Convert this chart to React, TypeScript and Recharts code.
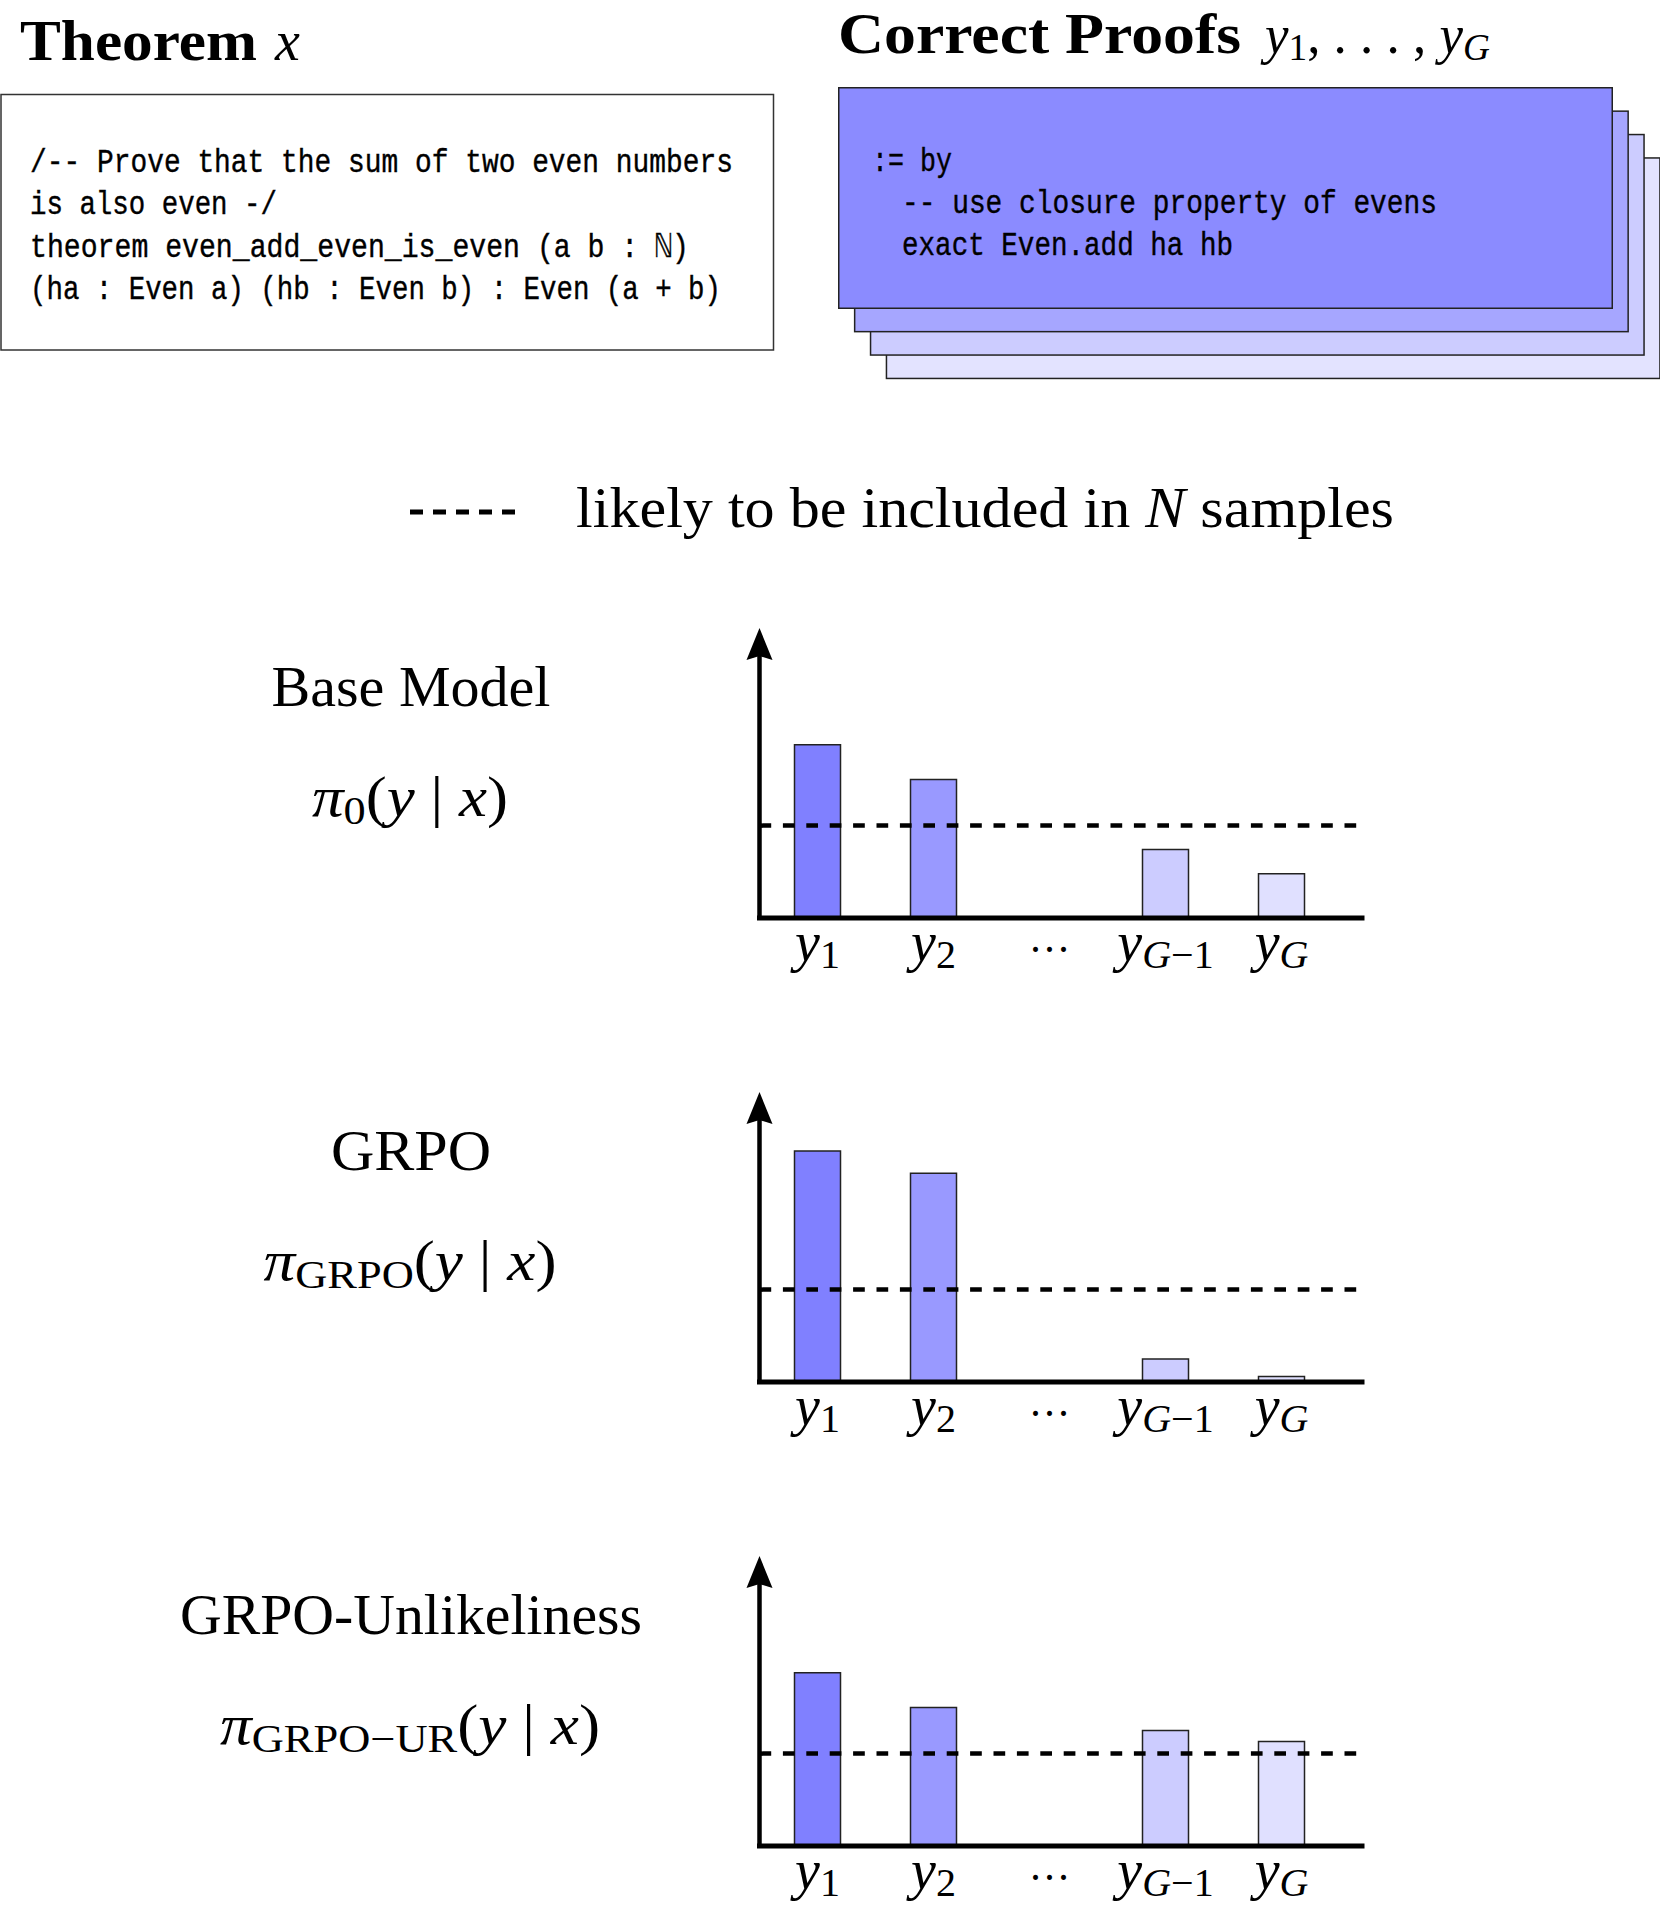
import React from 'react';
import { BarChart, Bar, XAxis, YAxis, ReferenceLine, Cell } from 'recharts';

// ---------- data ----------
const categories = ['y1', 'y2', 'dots', 'yG-1', 'yG'];
const tickMain = ['y', 'y', '···', 'y', 'y'];
const tickSubItalic = ['', '', '', 'G', 'G'];
const tickSubUpright = ['1', '2', '', '−1', ''];
const baseModel = [3.75, 3.0, null, 1.48, 0.96];
const grpo = [5.0, 4.52, null, 0.5, 0.12];
const grpoUnlikeliness = [3.75, 3.0, null, 2.5, 2.26];
const threshold = 2.0;
const yMax = 5.8;
const barColors = ['#8080ff', '#9999ff', '#ffffff', '#ccccff', '#e0e0ff'];
const panelTitles = ['Base Model', 'GRPO', 'GRPO-Unlikeliness'];
const policySubs = ['0', 'GRPO', 'GRPO−UR'];
const theoremLines = [
  '/-- Prove that the sum of two even numbers',
  'is also even -/',
  'theorem even_add_even_is_even (a b : ℕ)',
  '(ha : Even a) (hb : Even b) : Even (a + b)',
];
const proofLines = [':= by', '-- use closure property of evens', 'exact Even.add ha hb'];
const cardColors = ['#e3e3ff', '#ccccff', '#a6a6ff', '#8b8bff'];
const legendText = ['likely to be included in ', 'N', ' samples'];

// ---------- layout ----------
const SERIF = "'Liberation Serif', 'DejaVu Serif', serif";
const MONO = "'Liberation Mono', 'DejaVu Sans Mono', monospace";
const panelTops = [598, 1062, 1526];
const titleWidths = [279, 160, 462];
const policyWidths = [196, 293, 380];
const theoremWidths = [703, 247, 659, 691];
const theoremBaselines = [172, 214, 257, 299];
const proofX = [872, 902, 902];
const proofWidths = [80, 535, 331];
const proofBaselines = [171, 213, 255];

const seriesList = [baseModel, grpo, grpoUnlikeliness];

const makeData = (vals: (number | null)[]) => categories.map((c, i) => ({ cat: c, v: vals[i] }));

const AxisTick = (props: any) => {
  const { x, y, payload } = props;
  const i = categories.indexOf(payload.value);
  if (i < 0) return null;
  if (tickMain[i] === '···') {
    return (
      <text x={x} y={y + 46} textAnchor="middle" fontFamily={SERIF} fontSize={44} fill="#000"
        textLength={42} lengthAdjust="spacingAndGlyphs">
        {tickMain[i]}
      </text>
    );
  }
  return (
    <text x={x} y={y + 42.5} textAnchor="middle" fontFamily={SERIF} fontSize={56} fill="#000">
      <tspan fontStyle="italic">{tickMain[i]}</tspan>
      <tspan fontSize={40} dy={7}>
        {tickSubItalic[i] ? <tspan fontStyle="italic">{tickSubItalic[i]}</tspan> : null}
        {tickSubUpright[i]}
      </tspan>
    </text>
  );
};

const Panel = ({ idx }: { idx: number }) => {
  const data = makeData(seriesList[idx]);
  return (
    <div style={{ position: 'absolute', left: 700, top: panelTops[idx], width: 682, height: 380 }}>
      <BarChart width={682} height={380} data={data}
        margin={{ top: 52, right: 20, bottom: 0, left: 58.5 }} style={{ overflow: 'visible' }}>
        <XAxis dataKey="cat" type="category" interval={0} tickLine={false} tickSize={0} tickMargin={0}
          height={60} padding={{ left: 0, right: 22.5 }}
          axisLine={{ stroke: '#000', strokeWidth: 5, strokeLinecap: 'square' }}
          tick={<AxisTick />} />
        <YAxis type="number" domain={[0, yMax]} width={1} tick={false} tickLine={false}
          allowDataOverflow
          axisLine={{ stroke: '#000', strokeWidth: 4.5, markerStart: 'url(#axisArrow)' }} />
        <Bar dataKey="v" barSize={46} stroke="#222" strokeWidth={1.5} isAnimationActive={false}>
          {data.map((d, i) => (
            <Cell key={d.cat} fill={barColors[i]} />
          ))}
        </Bar>
        <ReferenceLine y={threshold} stroke="#000" strokeWidth={4.5} strokeDasharray="11.7 11.7" />
      </BarChart>
    </div>
  );
};

const Overlay = () => (
  <svg width={1660} height={1912} style={{ position: 'absolute', left: 0, top: 0 }}>
    <defs>
      <marker id="axisArrow" markerUnits="userSpaceOnUse" markerWidth={34} markerHeight={28}
        viewBox="0 -14 34 28" refX={10} refY={0} orient="auto-start-reverse">
        <path d="M32,0 L0,-13 L4,0 L0,13 Z" fill="#000" />
      </marker>
    </defs>

    {/* Theorem header */}
    <text x={20} y={60} fontFamily={SERIF} fontWeight="bold" fontSize={56} fill="#000"
      textLength={237} lengthAdjust="spacingAndGlyphs">Theorem</text>
    <text x={275} y={60} fontFamily={SERIF} fontStyle="italic" fontSize={56} fill="#000">x</text>

    {/* Theorem box */}
    <rect x={1} y={94.5} width={772.5} height={255.5} fill="#fff" stroke="#333" strokeWidth={1.5} />
    {theoremLines.map((l, i) => (
      <text key={i} x={30} y={theoremBaselines[i]} fontFamily={MONO} fontSize={33} fill="#000"
        stroke="#000" strokeWidth={0.4} textLength={theoremWidths[i]} lengthAdjust="spacingAndGlyphs"
        style={{ whiteSpace: 'pre' }}>{l}</text>
    ))}

    {/* Correct proofs header */}
    <text x={838} y={53} fontFamily={SERIF} fontWeight="bold" fontSize={56} fill="#000"
      textLength={403} lengthAdjust="spacingAndGlyphs">Correct Proofs</text>
    <text x={1265} y={53} fontFamily={SERIF} fontSize={54} fill="#000" textLength={225}
      lengthAdjust="spacingAndGlyphs">
      <tspan fontStyle="italic">y</tspan>
      <tspan fontSize={38} dy={7}>1</tspan>
      <tspan dy={-7}>{', . . . , '}</tspan>
      <tspan fontStyle="italic">y</tspan>
      <tspan fontSize={38} dy={7} fontStyle="italic">G</tspan>
    </text>

    {/* Card stack */}
    {cardColors.map((c, i) => {
      const k = 3 - i;
      return (
        <rect key={i} x={838.75 + k * 15.9} y={87.75 + k * 23.4} width={773.5} height={220.5}
          fill={c} stroke="#222" strokeWidth={1.5} />
      );
    })}
    {proofLines.map((l, i) => (
      <text key={i} x={proofX[i]} y={proofBaselines[i]} fontFamily={MONO} fontSize={33} fill="#000"
        stroke="#000" strokeWidth={0.4} textLength={proofWidths[i]} lengthAdjust="spacingAndGlyphs"
        style={{ whiteSpace: 'pre' }}>{l}</text>
    ))}

    {/* Legend */}
    <line x1={410} y1={512} x2={515} y2={512} stroke="#000" strokeWidth={5} strokeDasharray="13 10" />
    <text x={576} y={527} fontFamily={SERIF} fontSize={56} fill="#000" textLength={818}
      lengthAdjust="spacingAndGlyphs">
      <tspan>{legendText[0]}</tspan>
      <tspan fontStyle="italic">{legendText[1]}</tspan>
      <tspan>{legendText[2]}</tspan>
    </text>

    {/* Panel titles */}
    {panelTitles.map((t, i) => (
      <g key={t}>
        <text x={411} y={panelTops[i] + 108} textAnchor="middle" fontFamily={SERIF} fontSize={57}
          fill="#000" textLength={titleWidths[i]} lengthAdjust="spacingAndGlyphs">{t}</text>
        <text x={410} y={panelTops[i] + 218} textAnchor="middle" fontFamily={SERIF} fontSize={57}
          fill="#000" textLength={policyWidths[i]} lengthAdjust="spacingAndGlyphs">
          <tspan fontStyle="italic">π</tspan>
          <tspan fontSize={40} dy={8}>{policySubs[i]}</tspan>
          <tspan dy={-8}>(</tspan>
          <tspan fontStyle="italic">y</tspan>
          <tspan>{' | '}</tspan>
          <tspan fontStyle="italic">x</tspan>
          <tspan>)</tspan>
        </text>
      </g>
    ))}
  </svg>
);

export default function App() {
  return (
    <div style={{ position: 'absolute', left: 0, top: 0, width: 1660, height: 1912, background: '#fff' }}>
      <Overlay />
      {[0, 1, 2].map((i) => (
        <Panel key={i} idx={i} />
      ))}
    </div>
  );
}
